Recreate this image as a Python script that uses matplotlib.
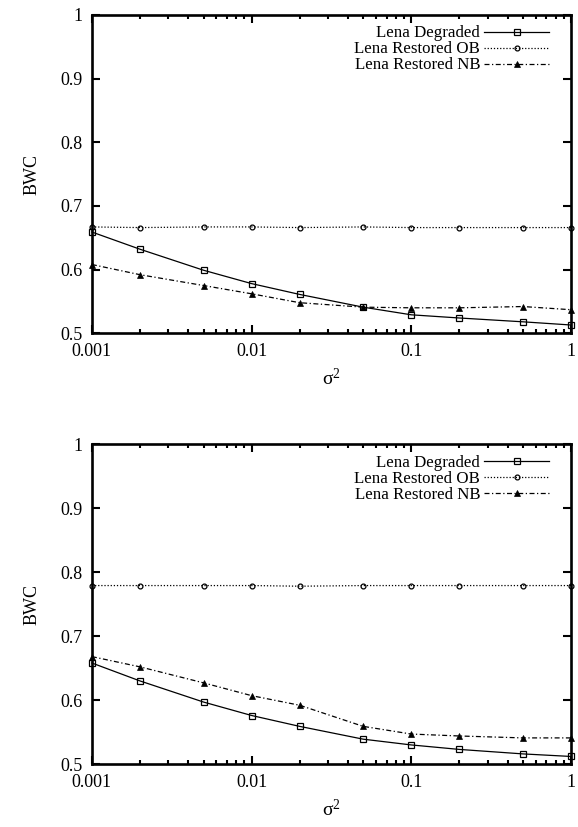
import matplotlib
matplotlib.use("Agg")
import matplotlib.pyplot as plt
from matplotlib.ticker import FixedLocator, FixedFormatter, LogLocator, NullFormatter

plt.rcParams['font.family'] = ['Liberation Serif', 'DejaVu Serif']
plt.rcParams['mathtext.fontset'] = 'custom'
plt.rcParams['mathtext.rm'] = 'Liberation Serif'
plt.rcParams['mathtext.it'] = 'Liberation Serif:italic'

# noise variance values
sigma2 = [0.001, 0.002, 0.005, 0.01, 0.02, 0.05, 0.1, 0.2, 0.5, 1]

# top panel
top_degraded = [0.659, 0.632, 0.599, 0.578, 0.561, 0.541, 0.529, 0.524, 0.518, 0.513]
top_ob = [0.667, 0.666, 0.667, 0.667, 0.666, 0.667, 0.666, 0.666, 0.666, 0.666]
top_nb = [0.608, 0.592, 0.575, 0.562, 0.548, 0.541, 0.540, 0.540, 0.542, 0.537]

# bottom panel
bot_degraded = [0.658, 0.630, 0.597, 0.576, 0.559, 0.539, 0.530, 0.523, 0.516, 0.512]
bot_ob = [0.779, 0.779, 0.779, 0.779, 0.778, 0.779, 0.779, 0.779, 0.779, 0.779]
bot_nb = [0.668, 0.652, 0.627, 0.607, 0.592, 0.559, 0.547, 0.544, 0.541, 0.541]

labels = ['Lena Degraded', 'Lena Restored OB', 'Lena Restored NB']
xticks = [0.001, 0.01, 0.1, 1]
xticklabels = ['0.001', '0.01', '0.1', '1']
yticks = [0.5, 0.6, 0.7, 0.8, 0.9, 1.0]
yticklabels = ['0.5', '0.6', '0.7', '0.8', '0.9', '1']

FS = 13


def draw_panel(ax, degraded, ob, nb):
    ax.plot(sigma2, degraded, color='black', lw=0.9, marker='s', ms=4,
            mfc='none', mew=0.9, label=labels[0], clip_on=False)
    ax.plot(sigma2, ob, color='black', lw=0.9, ls=(0, (1, 1.5)), marker='o', ms=3.5,
            mfc='none', mew=0.9, label=labels[1], clip_on=False)
    ax.plot(sigma2, nb, color='black', lw=0.9, ls=(0, (4, 2, 1, 2)), marker='^', ms=4,
            mfc='black', mew=0.5, label=labels[2], clip_on=False)

    ax.set_xscale('log')
    ax.set_xlim(0.001, 1)
    ax.set_ylim(0.5, 1)
    ax.xaxis.set_major_locator(FixedLocator(xticks))
    ax.xaxis.set_major_formatter(FixedFormatter(xticklabels))
    ax.xaxis.set_minor_locator(LogLocator(base=10, subs=range(2, 10)))
    ax.xaxis.set_minor_formatter(NullFormatter())
    ax.set_yticks(yticks)
    ax.set_yticklabels(yticklabels)

    ax.tick_params(which='both', direction='in', top=True, right=True,
                   labelsize=FS, width=1.5, color='black')
    ax.tick_params(which='major', length=6, pad=7)
    ax.tick_params(which='minor', length=3)
    for s in ax.spines.values():
        s.set_linewidth(1.9)

    ax.set_xlabel(r'$\mathregular{\sigma^2}$', fontsize=FS + 1, labelpad=6)
    ax.set_ylabel('BWC', fontsize=FS, labelpad=14)

    ax.legend(loc='upper right', frameon=False, markerfirst=False, fontsize=12.2,
              handlelength=3.8, handletextpad=0.25, labelspacing=0.0,
              borderpad=0.1, borderaxespad=0.0, bbox_to_anchor=(0.957, 0.972))


fig = plt.figure(figsize=(5.78, 8.27), dpi=100)
ax1 = fig.add_axes([0.159, 0.597, 0.829, 0.385])
ax2 = fig.add_axes([0.159, 0.076, 0.829, 0.387])

draw_panel(ax1, top_degraded, top_ob, top_nb)
draw_panel(ax2, bot_degraded, bot_ob, bot_nb)

fig.savefig('out.png', dpi=100)
